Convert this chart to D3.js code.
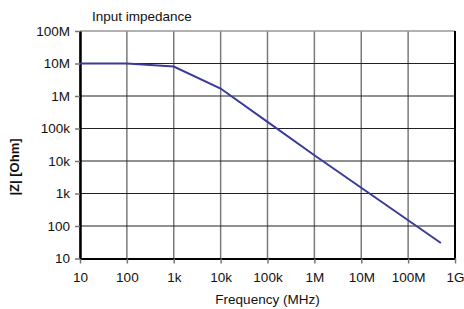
<!DOCTYPE html>
<html>
<head>
<meta charset="utf-8">
<script src="https://cdn.jsdelivr.net/npm/d3@7"></script>
<style>
  body { margin: 0; background: #fff; }
  text { font-family: "Liberation Sans", Arial, sans-serif; }
</style>
</head>
<body>
<div id="chart"></div>
<script>
const freq = [10, 100, 1e3, 1e4, 1e5, 1e6, 1e7, 1e8, 5e8];
const impedance = [1e7, 1e7, 8.1e6, 1.7e6, 1.6e5, 1.5e4, 1.5e3, 150, 30];

const xTicks = [10, 100, 1e3, 1e4, 1e5, 1e6, 1e7, 1e8, 1e9];
const xTickLabels = ["10", "100", "1k", "10k", "100k", "1M", "10M", "100M", "1G"];
const yTicks = [10, 100, 1e3, 1e4, 1e5, 1e6, 1e7, 1e8];
const yTickLabels = ["10", "100", "1k", "10k", "100k", "1M", "10M", "100M"];

const width = 464;
const height = 309;
const marginLeft = 80;
const marginRight = 9;
const marginTop = 31;
const marginBottom = 50.5;

const data = freq.map((f, i) => ({ f, z: impedance[i] }));

const x = d3.scaleLog()
    .domain([10, 1e9])
    .range([marginLeft, width - marginRight]);
const y = d3.scaleLog()
    .domain([10, 1e8])
    .range([height - marginBottom, marginTop]);

const svg = d3.select("#chart")
    .append("svg")
    .attr("width", width)
    .attr("height", height)
    .attr("viewBox", [0, 0, width, height]);

// grid
svg.append("g")
    .selectAll("line")
    .data(xTicks)
    .join("line")
    .attr("x1", (d) => x(d))
    .attr("x2", (d) => x(d))
    .attr("y1", marginTop)
    .attr("y2", height - marginBottom)
    .attr("stroke", "#7a7a7a")
    .attr("stroke-width", 1.5);

svg.append("g")
    .selectAll("line")
    .data(yTicks.slice(1, -1))
    .join("line")
    .attr("x1", marginLeft)
    .attr("x2", width - marginRight)
    .attr("y1", (d) => y(d))
    .attr("y2", (d) => y(d))
    .attr("stroke", "#222")
    .attr("stroke-width", 1.2);

// top border
svg.append("line")
    .attr("x1", marginLeft)
    .attr("x2", width - marginRight)
    .attr("y1", marginTop)
    .attr("y2", marginTop)
    .attr("stroke", "#999")
    .attr("stroke-width", 1.5);

// right border
svg.append("line")
    .attr("x1", width - marginRight)
    .attr("x2", width - marginRight)
    .attr("y1", marginTop)
    .attr("y2", height - marginBottom)
    .attr("stroke", "#000")
    .attr("stroke-width", 2);

// axes
const xAxis = svg.append("g")
    .attr("transform", `translate(0,${height - marginBottom})`)
    .call(d3.axisBottom(x)
        .tickValues(xTicks)
        .tickFormat((d, i) => xTickLabels[i])
        .tickSizeOuter(0)
        .tickSizeInner(5)
        .tickPadding(9));
xAxis.select(".domain").attr("stroke", "#000").attr("stroke-width", 2);
xAxis.selectAll(".tick line").attr("stroke", "#777").attr("stroke-width", 1.5);
xAxis.selectAll("text").attr("font-size", 13.5).attr("fill", "#111")
    .attr("font-family", "Liberation Sans, Arial, sans-serif");

const yAxis = svg.append("g")
    .attr("transform", `translate(${marginLeft},0)`)
    .call(d3.axisLeft(y)
        .tickValues(yTicks)
        .tickFormat((d, i) => yTickLabels[i])
        .tickSizeOuter(0)
        .tickSizeInner(5)
        .tickPadding(5));
yAxis.select(".domain").attr("stroke", "#000").attr("stroke-width", 2.5);
yAxis.selectAll(".tick line").attr("stroke", "#777").attr("stroke-width", 1.5);
yAxis.selectAll("text").attr("font-size", 13.5).attr("fill", "#111")
    .attr("font-family", "Liberation Sans, Arial, sans-serif");

// data line
const line = d3.line()
    .x((d) => x(d.f))
    .y((d) => y(d.z));

svg.append("path")
    .datum(data)
    .attr("fill", "none")
    .attr("stroke", "#3b3b9b")
    .attr("stroke-width", 2)
    .attr("d", line);

// labels
svg.append("text")
    .attr("x", 92)
    .attr("y", 21)
    .attr("font-size", 13.5)
    .attr("fill", "#111")
    .text("Input impedance");

svg.append("text")
    .attr("x", (marginLeft + width - marginRight) / 2)
    .attr("y", 304)
    .attr("text-anchor", "middle")
    .attr("font-size", 13.5)
    .attr("fill", "#111")
    .text("Frequency (MHz)");

svg.append("text")
    .attr("transform", "translate(19,167) rotate(-90)")
    .attr("text-anchor", "middle")
    .attr("font-size", 13)
    .attr("font-weight", "bold")
    .attr("fill", "#111")
    .text("|Z| [Ohm]");
</script>
</body>
</html>
